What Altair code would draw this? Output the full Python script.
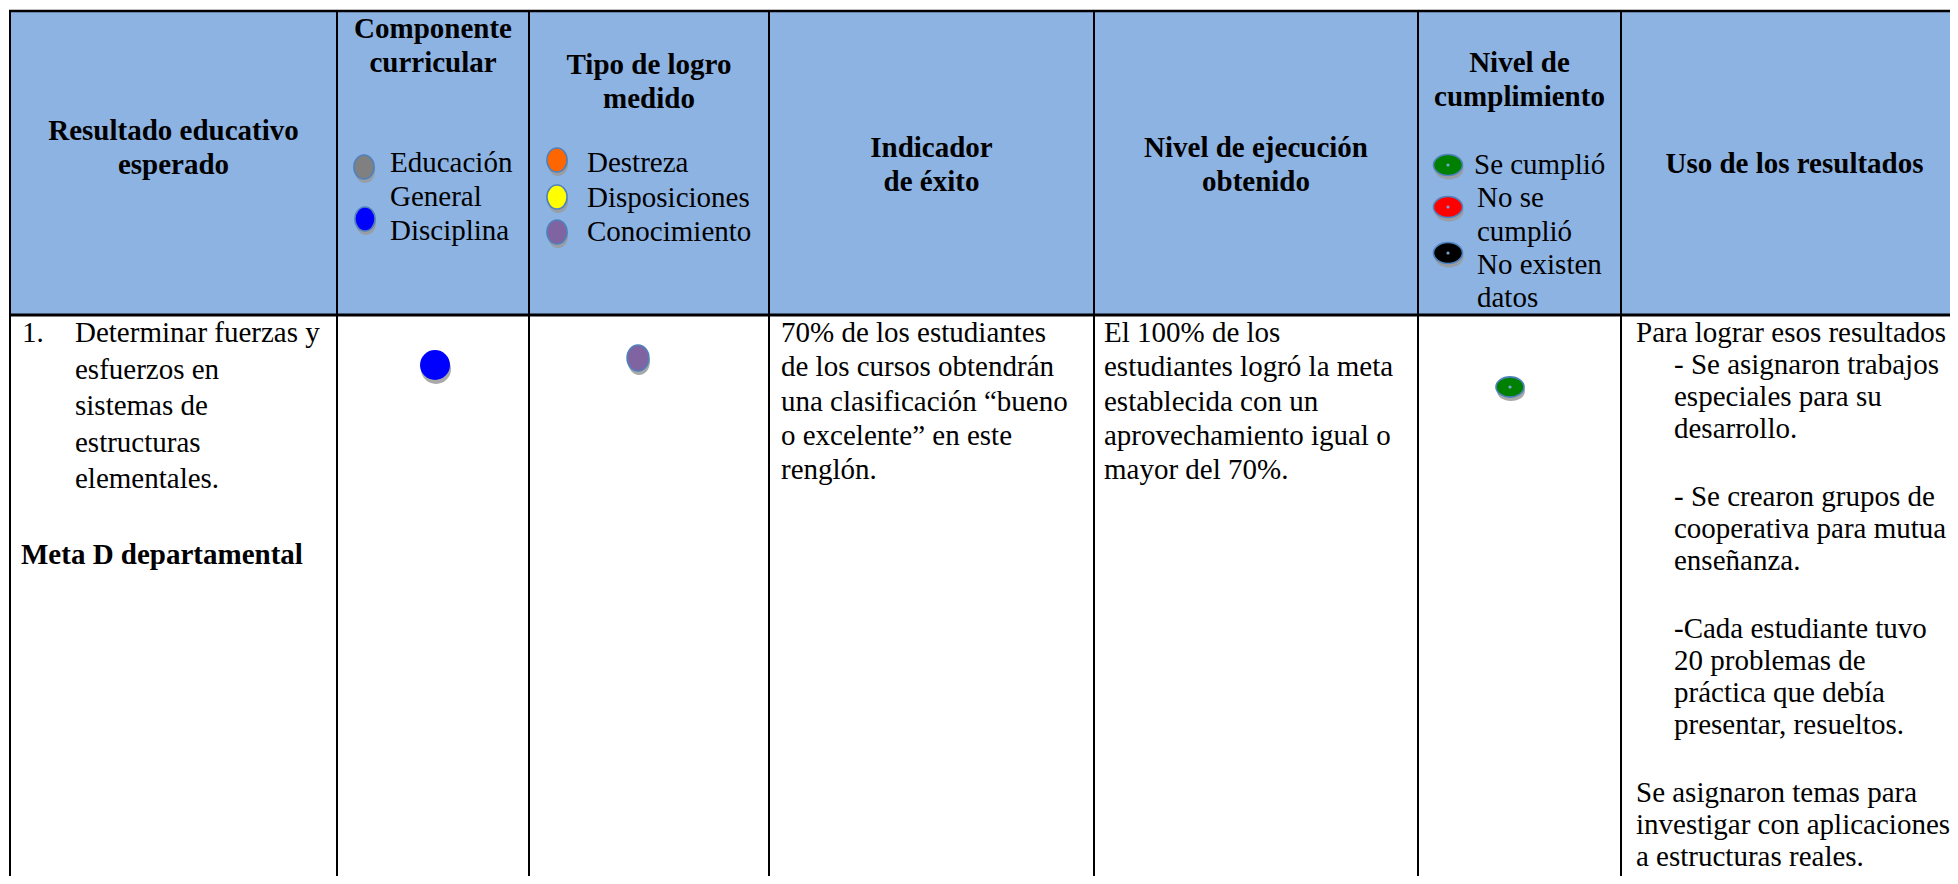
import altair as alt
import pandas as pd

# ---------------- content ----------------
header_lines = [
    ["Resultado educativo", "esperado"],
    ["Componente", "curricular"],
    ["Tipo de logro", "medido"],
    ["Indicador", "de éxito"],
    ["Nivel de ejecución", "obtenido"],
    ["Nivel de", "cumplimiento"],
    ["Uso de los resultados"],
]
componente_cats = ["Educación General", "Disciplina"]
componente_labels = [["Educación", "General"], ["Disciplina"]]
logro_cats = ["Destreza", "Disposiciones", "Conocimiento"]
cumpl_cats = ["Se cumplió", "No se cumplió", "No existen datos"]
cumpl_labels = [["Se cumplió"], ["No se", "cumplió"], ["No existen", "datos"]]

resultado_num = "1."
resultado_lines = ["Determinar fuerzas y", "esfuerzos en", "sistemas de",
                   "estructuras", "elementales."]
meta_text = "Meta D departamental"
row_componente = "Disciplina"
row_logro = "Conocimiento"
indicador_lines = ["70% de los estudiantes", "de los cursos obtendrán",
                   "una clasificación “bueno", "o excelente” en este", "renglón."]
ejecucion_lines = ["El 100% de los", "estudiantes logró la meta",
                   "establecida con un", "aprovechamiento igual o", "mayor del 70%."]
row_cumpl = "Se cumplió"
uso_intro = ["Para lograr esos resultados"]
uso_items = [
    ["- Se asignaron trabajos", "especiales para su", "desarrollo."],
    ["- Se crearon grupos de", "cooperativa para mutua", "enseñanza."],
    ["-Cada estudiante tuvo", "20 problemas de", "práctica que debía",
     "presentar, resueltos."],
]
uso_closing = ["Se asignaron temas para", "investigar con aplicaciones",
               "a estructuras reales."]

# ---------------- styles ----------------
componente_colors = ["#808080", "#0000FF"]
logro_colors = ["#FF6600", "#FFFF00", "#8064A2"]
cumpl_colors = ["#008000", "#FF0000", "#000000"]
HEADER_FILL = "#8DB3E2"
OUTLINE = "#4F81BD"
SHADOW = "#9A9A9A"
FONT = "Liberation Serif"
FS = 29

# ---------------- layout ----------------
X_EDGES = [10, 337, 529, 769, 1094, 1418, 1621, 1968]
VIEW_R, VIEW_B = 1950, 876
TOP, HEAD_BOTTOM = 11, 315
title_first_y = [131, 29, 65, 148, 148, 63, 164]
HEAD_LS = 34

centers = [(X_EDGES[i] + X_EDGES[i + 1]) / 2 for i in range(7)]

xs = alt.Scale(domain=[8, VIEW_R], nice=False, zero=False)
ys = alt.Scale(domain=[VIEW_B, 8], nice=False, zero=False)


def X(f="x"):
    return alt.X(f"{f}:Q", scale=xs, axis=None)


def Y(f="y"):
    return alt.Y(f"{f}:Q", scale=ys, axis=None)


# header background
bg = pd.DataFrame([{"x": X_EDGES[0], "x2": VIEW_R, "y": TOP, "y2": HEAD_BOTTOM}])
bg_layer = alt.Chart(bg).mark_rect(color=HEADER_FILL).encode(
    x=X(), x2="x2:Q", y=Y(), y2="y2:Q")

# grid lines
vlines = pd.DataFrame([{"x": e, "x2": e, "y": TOP, "y2": VIEW_B} for e in X_EDGES[:-1]])
v_layer = alt.Chart(vlines).mark_rule(color="black", strokeWidth=2).encode(
    x=X(), x2="x2:Q", y=Y(), y2="y2:Q")
hlines = pd.DataFrame([{"x": X_EDGES[0] - 1, "x2": VIEW_R, "y": TOP, "y2": TOP}])
h_layer = alt.Chart(hlines).mark_rule(color="black", strokeWidth=2.5).encode(
    x=X(), x2="x2:Q", y=Y(), y2="y2:Q")
hb = pd.DataFrame([{"x": X_EDGES[0] - 1, "x2": VIEW_R, "y": HEAD_BOTTOM, "y2": HEAD_BOTTOM}])
hb_layer = alt.Chart(hb).mark_rule(color="black", strokeWidth=3).encode(
    x=X(), x2="x2:Q", y=Y(), y2="y2:Q")

# header titles
titles = []
for i, lines in enumerate(header_lines):
    for k, t in enumerate(lines):
        titles.append({"x": centers[i], "y": title_first_y[i] + k * HEAD_LS, "text": t})
title_layer = alt.Chart(pd.DataFrame(titles)).mark_text(
    font=FONT, fontSize=FS, fontWeight="bold", align="center", baseline="middle",
    color="black").encode(x=X(), y=Y(), text="text:N")

# legend texts
leg_txt = []
k = 0
for lab in componente_labels:
    for t in lab:
        leg_txt.append({"x": 390, "y": 163 + k * 34, "text": t})
        k += 1
for j, t in enumerate(logro_cats):
    leg_txt.append({"x": 587, "y": 163 + j * 34.5, "text": t})
k = 0
for j, lab in enumerate(cumpl_labels):
    for t in lab:
        leg_txt.append({"x": 1474 if k == 0 else 1477, "y": 165 + k * 33.3, "text": t})
        k += 1

# body texts
body = [{"x": 22, "y": 333, "text": resultado_num}]
for k, t in enumerate(resultado_lines):
    body.append({"x": 75, "y": 333 + k * 36.6, "text": t})
for k, t in enumerate(indicador_lines):
    body.append({"x": 781, "y": 333 + k * 34.3, "text": t})
for k, t in enumerate(ejecucion_lines):
    body.append({"x": 1104, "y": 333 + k * 34.3, "text": t})

USO_LS, USO_PARA_GAP = 32.0, 36
y = 333
paragraphs = [(uso_intro, False)] + [(it, True) for it in uso_items] + [(uso_closing, False)]
for p, (lines, indent) in enumerate(paragraphs):
    if p >= 2:
        y += USO_PARA_GAP
    for t in lines:
        body.append({"x": 1674 if indent else 1636, "y": y, "text": t})
        y += USO_LS

text_layer = alt.Chart(pd.DataFrame(leg_txt + body)).mark_text(
    font=FONT, fontSize=FS, align="left", baseline="middle", color="black").encode(
    x=X(), y=Y(), text="text:N")
meta_layer = alt.Chart(pd.DataFrame([{"x": 21, "y": 555, "text": meta_text}])).mark_text(
    font=FONT, fontSize=FS, fontWeight="bold", align="left", baseline="middle",
    color="black").encode(x=X(), y=Y(), text="text:N")

# symbols
TALL = "M -0.84 0 A 0.84 1 0 1 1 0.84 0 A 0.84 1 0 1 1 -0.84 0 Z"
WIDE = "M -1 0 A 1 0.72 0 1 1 1 0 A 1 0.72 0 1 1 -1 0 Z"
all_cats = componente_cats + logro_cats + cumpl_cats
all_cols = componente_colors + logro_colors + cumpl_colors
cscale = alt.Scale(domain=all_cats, range=all_cols)

tall_pts = []
for c, (x, yy) in zip(componente_cats, [(364, 167), (365, 219)]):
    tall_pts.append({"x": x, "y": yy, "cat": c})
for c, yy in zip(logro_cats, [160, 197, 232]):
    tall_pts.append({"x": 557, "y": yy, "cat": c})

body_logro = [{"x": 638, "y": 358, "cat": row_logro}]
wide_pts = [{"x": 1448, "y": yy, "cat": c} for c, yy in zip(cumpl_cats, [165, 207, 253])]
wide_body = [{"x": 1510, "y": 387, "cat": row_cumpl}]
body_round = [{"x": 435, "y": 365, "cat": row_componente}]


def sym_layers(rows, shape, size, outline=True, dot=False):
    df = pd.DataFrame(rows)
    base = alt.Chart(df)
    shadow = base.transform_calculate(ys="datum.y + 4", xs="datum.x + 1").mark_point(
        shape=shape, filled=True, size=size, color=SHADOW, opacity=0.85, strokeWidth=0
    ).encode(x=X("xs"), y=Y("ys"))
    kw = dict(shape=shape, filled=True, size=size, opacity=1)
    if outline:
        kw.update(stroke=OUTLINE, strokeWidth=1.6)
    else:
        kw.update(strokeWidth=0)
    main = base.mark_point(**kw).encode(
        x=X(), y=Y(), fill=alt.Fill("cat:N", scale=cscale, legend=None))
    out = [shadow, main]
    if dot:
        out.append(base.mark_point(shape="circle", filled=True, size=10,
                                   color="#7DA2D6", opacity=1).encode(x=X(), y=Y()))
    return out


sym = []
sym += sym_layers(tall_pts, TALL, 24 * 24)
sym += sym_layers(body_logro, TALL, 26 * 26)
sym += sym_layers(wide_pts, WIDE, 29 * 29, dot=True)
sym += sym_layers(wide_body, WIDE, 28 * 28, dot=True)
sym += sym_layers(body_round, "circle", 30 * 30, outline=False)

chart = alt.layer(
    bg_layer, v_layer, h_layer, hb_layer, title_layer, text_layer, meta_layer, *sym
).properties(
    width=VIEW_R - 8, height=VIEW_B - 8, padding=0,
    autosize=alt.AutoSizeParams(type="none"), background="white"
).configure_view(stroke=None)

chart.save("out.html", embed_options={"renderer": "svg", "actions": False})
